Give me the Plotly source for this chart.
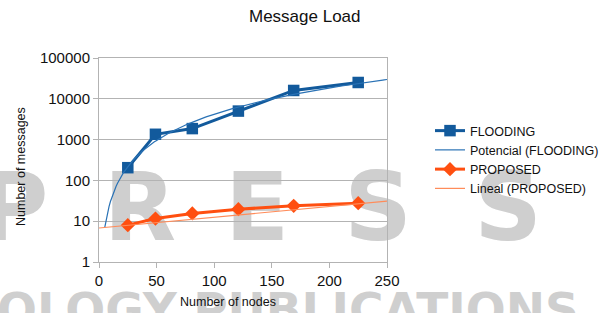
import numpy as np
import plotly.graph_objects as go

# ---- data ----
nodes = [25, 49, 81, 121, 169, 225]
flooding = [205, 1350, 1860, 5000, 16000, 25100]
proposed = [8.0, 11.6, 15.5, 19.7, 23.8, 27.7]
y_ticks = [1, 10, 100, 1000, 10000, 100000]
x_ticks = [0, 50, 100, 150, 200, 250]
series_names = ["FLOODING", "Potencial (FLOODING)", "PROPOSED", "Lineal (PROPOSED)"]
title_text = "Message Load"
x_title = "Number of nodes"
y_title = "Number of messages"
watermark_letters = ["P", "R", "E", "S", "S"]
watermark_bottom = "OLOGY PUBLICATIONS"

W, H = 614, 313
def fx(px): return px / W
def fy(py): return 1 - py / H

# ---- trend lines fitted from the data (as the spreadsheet did) ----
b, a = np.polyfit(np.log10(nodes), np.log10(flooding), 1)
xp = np.linspace(5, 250, 200)
yp = 10 ** (a + b * np.log10(xp))
m, c = np.polyfit(nodes, proposed, 1)
xl = np.array([0, 250])
yl = m * xl + c

BLUE = "#125a9c"
BLUE_T = "#2a72b5"
ORANGE = "#ff4f10"
ORANGE_T = "#ff8c5a"
FONT = "Liberation Sans, Arial, sans-serif"
WM = "#cfcfcf"

fig = go.Figure()

# watermark (underneath, on its own full-page subplot)
wm_x = [14, 140, 257, 378, 508]
fig.add_trace(go.Scatter(
    x=wm_x, y=[216] * 5, mode="text", text=watermark_letters,
    textfont=dict(family="DejaVu Sans", size=94, color=WM, weight="bold"),
    textposition="middle center", cliponaxis=False, showlegend=False,
    hoverinfo="skip", xaxis="x", yaxis="y"))
fig.add_trace(go.Scatter(
    x=[288], y=[291], mode="text", text=[watermark_bottom],
    textfont=dict(family="DejaVu Sans", size=47, color=WM, weight="bold"),
    textposition="bottom center", cliponaxis=False, showlegend=False,
    hoverinfo="skip", xaxis="x", yaxis="y"))

# main series
fig.add_trace(go.Scatter(
    x=nodes, y=flooding, name=series_names[0], mode="lines+markers",
    line=dict(color=BLUE, width=3), marker=dict(symbol="square", size=11.5, color=BLUE),
    xaxis="x2", yaxis="y2"))
fig.add_trace(go.Scatter(
    x=xp, y=yp, name=series_names[1], mode="lines",
    line=dict(color=BLUE_T, width=1.2), xaxis="x2", yaxis="y2"))
fig.add_trace(go.Scatter(
    x=nodes, y=proposed, name=series_names[2], mode="lines+markers",
    line=dict(color=ORANGE, width=3), marker=dict(symbol="diamond", size=11, color=ORANGE),
    xaxis="x2", yaxis="y2"))
fig.add_trace(go.Scatter(
    x=xl, y=yl, name=series_names[3], mode="lines",
    line=dict(color=ORANGE_T, width=1.2), xaxis="x2", yaxis="y2"))

fig.update_layout(
    width=W, height=H,
    margin=dict(l=0, r=0, t=0, b=0, autoexpand=False),
    paper_bgcolor="white", plot_bgcolor="rgba(0,0,0,0)",
    font=dict(family=FONT, color="#111111", size=13),
    xaxis=dict(domain=[0, 1], range=[0, W], visible=False, fixedrange=True),
    yaxis=dict(domain=[0, 1], range=[H, 0], visible=False, fixedrange=True),
    xaxis2=dict(domain=[fx(99), fx(387)], range=[0, 250], anchor="y2",
                tickvals=x_ticks, ticks="outside", ticklen=5, tickcolor="#b3b3b3",
                showline=True, linecolor="#b3b3b3", mirror=True, linewidth=1,
                showgrid=False, zeroline=False, tickfont=dict(size=15),
                automargin=False),
    yaxis2=dict(domain=[fy(262), fy(58)], type="log", range=[0, 5], anchor="x2",
                tickvals=y_ticks, ticktext=[str(v) for v in y_ticks],
                ticks="outside", ticklen=5, tickcolor="#b3b3b3",
                showline=True, linecolor="#b3b3b3", mirror=True, linewidth=1,
                showgrid=True, gridcolor="#b3b3b3", gridwidth=1,
                zeroline=False, tickfont=dict(size=15), automargin=False),
    legend=dict(x=fx(430), y=fy(116), xanchor="left", yanchor="top",
                bgcolor="rgba(0,0,0,0)", font=dict(size=12.5, color="#111111"),
                itemwidth=30, tracegroupgap=0, traceorder="normal"),
    annotations=[
        dict(text=title_text, x=fx(305), y=fy(16), xref="paper", yref="paper",
             showarrow=False, font=dict(size=17, color="#111111"),
             xanchor="center", yanchor="middle"),
        dict(text=x_title, x=fx(228), y=fy(302), xref="paper", yref="paper",
             showarrow=False, font=dict(size=12.5, color="#111111"),
             xanchor="center", yanchor="middle"),
        dict(text=y_title, x=fx(21), y=fy(167), xref="paper", yref="paper",
             showarrow=False, font=dict(size=12.5, color="#111111"), textangle=-90,
             xanchor="center", yanchor="middle"),
    ],
)

fig.write_html("out.html", config={"displayModeBar": False},
               post_script="document.body.style.margin='0px';")
